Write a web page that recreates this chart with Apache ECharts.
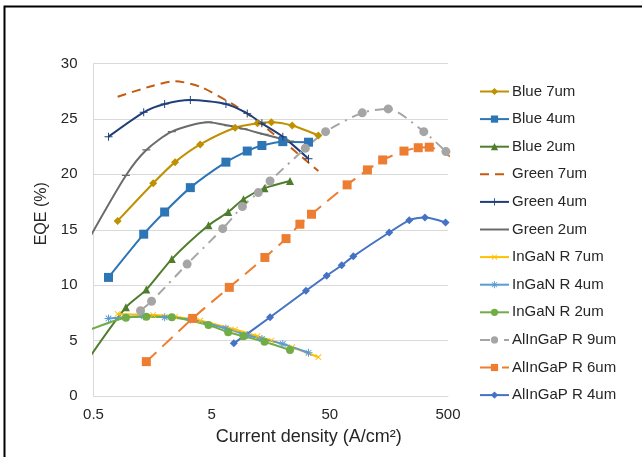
<!DOCTYPE html>
<html>
<head>
<meta charset="utf-8">
<script src="https://cdn.jsdelivr.net/npm/echarts@6/dist/echarts.min.js"></script>
<style>
  html, body { margin: 0; padding: 0; background: #fff; }
  #chart { width: 642px; height: 457px; }
</style>
</head>
<body>
<div id="chart"></div>
<script>
  // current densities (A/cm2) per device size
  const x7 = [0.8, 1.6, 2.45, 4, 7.9, 12.2, 16, 24, 40]
  const x4 = [0.67, 1.33, 2, 3.3, 6.6, 10, 13.3, 20, 33]
  const x2 = [0.47, 0.94, 1.4, 2.3, 4.7, 6.9, 9.3, 14, 23]

  // EQE (%)
  const blue7 = [15.8, 19.2, 21.1, 22.7, 24.2, 24.6, 24.7, 24.4, 23.5]
  const blue4 = [10.7, 14.6, 16.6, 18.8, 21.1, 22.1, 22.6, 22.95, 22.9]
  const blue2 = [3.6, 8.0, 9.6, 12.35, 15.4, 16.6, 17.75, 18.75, 19.4]
  const green7 = [27.0, 28.0, 28.4, 27.9, 26.2, 24.8, 23.8, 22.3, 20.3]
  const green4 = [23.4, 25.6, 26.35, 26.7, 26.35, 25.5, 24.6, 23.4, 21.4]
  const green2 = [14.4, 19.9, 22.2, 23.85, 24.7, 24.4, 24.1, 23.6, 23.0]
  const ingan7 = [7.4, 7.3, 7.15, 6.8, 6.0, 5.4, 5.0, 4.4, 3.5]
  const ingan4 = [7.0, 7.2, 7.1, 6.9, 6.1, 5.5, 5.15, 4.7, 3.9]
  const ingan2 = [6.0, 7.07, 7.15, 7.1, 6.4, 5.75, 5.4, 4.9, 4.15]

  const alX9 = [1.25, 1.55, 3.1, 6.2, 9.1, 12.4, 15.6, 31, 46, 94, 156, 312, 480]
  const alY9 = [7.7, 8.55, 11.9, 15.1, 17.1, 18.35, 19.4, 22.35, 23.85, 25.55, 25.9, 23.85, 22.05]
  const alX6 = [1.4, 3.45, 7.05, 14.1, 21.3, 27.9, 35, 70, 104, 140, 212, 280, 347, 600]
  const alY6 = [3.1, 7.0, 9.8, 12.5, 14.2, 15.5, 16.4, 19.05, 20.4, 21.3, 22.1, 22.4, 22.45, 21.2]
  const alX4 = [7.7, 15.6, 31.4, 47, 63, 79, 159, 235, 319, 477]
  const alY4 = [4.75, 7.1, 9.5, 10.85, 11.8, 12.6, 14.75, 15.85, 16.1, 15.65]

  const xTicks = [0.5, 5, 50, 500]

  const FONT = 'Liberation Sans'
  const TEXT = '#262626'

  // marker shapes (square bounding boxes so legend icons keep their proportions)
  const plus = 'path://M0,4.4H10V5.6H0Z M4.4,0H5.6V10H4.4Z'
  const dash = 'path://M0,4.2H10V5.8H0Z M5,0L5.01,0 M5,10L5.01,10'
  const cross = 'path://M1.1,1.9L1.9,1.1L8.9,8.1L8.1,8.9Z M8.1,1.1L8.9,1.9L1.9,8.9L1.1,8.1Z M0,0L0.01,0 M10,10L10.01,10'
  const star = 'path://M0,4.4H10V5.6H0Z M4.4,0H5.6V10H4.4Z M1.1,1.9L1.9,1.1L8.9,8.1L8.1,8.9Z M8.1,1.1L8.9,1.9L1.9,8.9L1.1,8.1Z'

  function pair(xs, ys) {
    return xs.map((x, i) => [x, ys[i]])
  }

  function line(name, xs, ys, color, symbol, size, dashType) {
    const noMarker = symbol === 'none'
    return {
      name: name,
      type: 'line',
      data: pair(xs, ys),
      smooth: 0.25,
      clip: true,
      symbol: noMarker ? 'circle' : symbol,
      symbolSize: size,
      showSymbol: !noMarker,
      itemStyle: { color: noMarker ? 'rgba(0,0,0,0)' : color },
      lineStyle: { color: color, width: 2, type: dashType || 'solid' },
      emphasis: { disabled: true },
      animation: false
    }
  }

  const chart = echarts.init(document.getElementById('chart'))
  chart.setOption({
    backgroundColor: '#fff',
    textStyle: { fontFamily: FONT },
    graphic: [{
      type: 'rect',
      shape: { x: 4.5, y: 6.5, width: 700, height: 500 },
      style: { fill: 'none', stroke: '#000', lineWidth: 2 },
      z: 100
    }],
    grid: { left: 93.5, right: 194, top: 63.5, bottom: 61 },
    legend: {
      orient: 'vertical',
      left: 479,
      top: 84,
      padding: 0,
      itemWidth: 29,
      itemHeight: 9,
      itemGap: 12.6,
      textStyle: { fontFamily: FONT, fontSize: 15, color: TEXT, padding: [0, 0, 0, -2] },
      data: ['Blue 7um', 'Blue 4um', 'Blue 2um', 'Green 7um', 'Green 4um', 'Green 2um',
        'InGaN R 7um', 'InGaN R 4um', 'InGaN R 2um', 'AlInGaP R 9um', 'AlInGaP R 6um', 'AlInGaP R 4um']
    },
    xAxis: {
      type: 'log',
      logBase: 10,
      min: 0.5,
      max: 500,
      name: 'Current density (A/cm²)',
      nameLocation: 'middle',
      nameGap: 32,
      nameTextStyle: { fontFamily: FONT, fontSize: 18, color: TEXT, padding: [0, 0, 0, 76] },
      axisLine: { show: true, onZero: false, lineStyle: { color: '#d9d9d9', width: 1 } },
      axisTick: { show: false },
      splitLine: { show: false },
      axisLabel: {
        customValues: xTicks,
        fontFamily: FONT, fontSize: 15, color: TEXT, margin: 11,
        formatter: v => String(v)
      }
    },
    yAxis: {
      type: 'value',
      min: 0,
      max: 30,
      interval: 5,
      name: 'EQE (%)',
      nameLocation: 'middle',
      nameRotate: 90,
      nameGap: 42,
      nameTextStyle: { fontFamily: FONT, fontSize: 16, color: TEXT, padding: [0, 0, 0, 32] },
      axisLine: { show: true, lineStyle: { color: '#d9d9d9', width: 1 } },
      axisTick: { show: false },
      splitLine: { lineStyle: { color: '#d9d9d9', width: 1 } },
      axisLabel: { fontFamily: FONT, fontSize: 15, color: TEXT, margin: 16 }
    },
    series: [
      line('Blue 7um', x7, blue7, '#BF9000', 'diamond', 8),
      line('Blue 4um', x4, blue4, '#2E75B6', 'rect', 9),
      line('Blue 2um', x2, blue2, '#4E7D2C', 'triangle', 8),
      line('Green 7um', x7, green7, '#C55A11', 'none', 0, [9, 6]),
      line('Green 4um', x4, green4, '#203F78', plus, 8),
      line('Green 2um', x2, green2, '#6B6B6B', dash, 8),
      line('InGaN R 7um', x7, ingan7, '#FFC000', cross, 8),
      line('InGaN R 4um', x4, ingan4, '#5B9BD5', star, 8),
      line('InGaN R 2um', x2, ingan2, '#70AD47', 'circle', 8),
      line('AlInGaP R 9um', alX9, alY9, '#A5A5A5', 'circle', 9, [10, 6, 2, 6]),
      line('AlInGaP R 6um', alX6, alY6, '#ED7D31', 'rect', 9, [14, 8]),
      line('AlInGaP R 4um', alX4, alY4, '#4472C4', 'diamond', 8)
    ]
  })
</script>
</body>
</html>
